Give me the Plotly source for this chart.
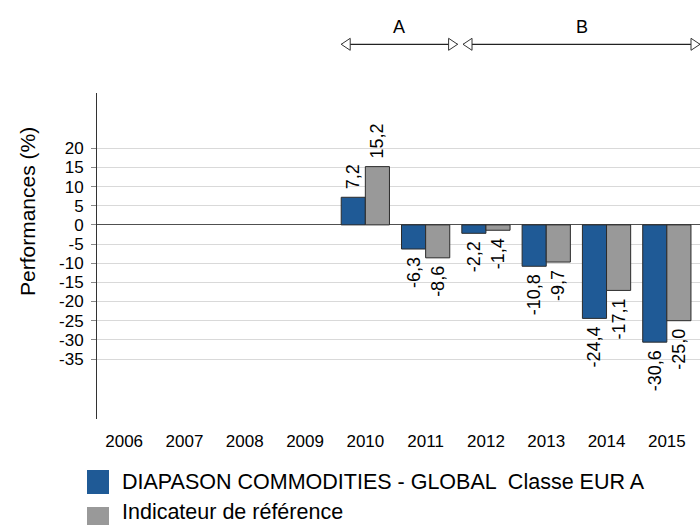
import plotly.graph_objects as go

# ---- data ----
years = [2006, 2007, 2008, 2009, 2010, 2011, 2012, 2013, 2014, 2015]
fund_values = [None, None, None, None, 7.2, -6.3, -2.2, -10.8, -24.4, -30.6]
index_values = [None, None, None, None, 15.2, -8.6, -1.4, -9.7, -17.1, -25.0]
fund_name = "DIAPASON COMMODITIES - GLOBAL \u00a0Classe EUR A"
index_name = "Indicateur de référence"
y_ticks = [20, 15, 10, 5, 0, -5, -10, -15, -20, -25, -30, -35]
period_labels = ["A", "B"]
period_starts = [2009.6, 2011.62]
period_ends = [2011.53, 2015.55]

# ---- style ----
FONT = "Liberation Sans, Arial, sans-serif"
BLUE = "#1f5a96"
GREY = "#999999"
OUTLINE = "#2b2b2b"
W, H = 700, 525
ML, MR, MT, MB = 97, 0, 93, 106
XR = [2005.55, 2015.55]
YR = [-50.65, 34.41]
PW = W - ML - MR
PH = H - MT - MB
NB = "\u00a0"


def fmt(v):
    if v is None:
        return ""
    s = f"{v:.1f}".replace(".", ",")
    # small padding on the side facing the bar
    return NB + s if v >= 0 else s + NB


def px_x(px):
    return (px - ML) / PW


def px_y(py):
    return (H - MB - py) / PH


def yr_x(v):
    return (v - XR[0]) / (XR[1] - XR[0])


fig = go.Figure()
fig.add_trace(go.Bar(
    x=years, y=fund_values, name=fund_name,
    marker=dict(color=BLUE, line=dict(color=OUTLINE, width=1)),
    text=[fmt(v) for v in fund_values], textposition="outside",
    textangle=-90, textfont=dict(size=18, color="#000", family=FONT),
    constraintext="none", cliponaxis=False, hoverinfo="skip",
))
fig.add_trace(go.Bar(
    x=years, y=index_values, name=index_name,
    marker=dict(color=GREY, line=dict(color=OUTLINE, width=1)),
    text=[fmt(v) for v in index_values], textposition="outside",
    textangle=-90, textfont=dict(size=18, color="#000", family=FONT),
    constraintext="none", cliponaxis=False, hoverinfo="skip",
))

shapes = []
annotations = []

# period arrows
arrow_y = px_y(44.3)
for lab, s, e in zip(period_labels, period_starts, period_ends):
    xs, xe = yr_x(s), yr_x(e)
    shapes.append(dict(type="line", xref="paper", yref="paper", x0=xs, x1=xe,
                       y0=arrow_y, y1=arrow_y, line=dict(color="#222", width=1.3)))
    shapes.append(dict(type="path", xref="paper", yref="paper",
                       xsizemode="pixel", ysizemode="pixel",
                       xanchor=xs, yanchor=arrow_y,
                       path="M0,0 L9,6 L9,-6 Z", fillcolor="white",
                       line=dict(color="#333", width=1)))
    shapes.append(dict(type="path", xref="paper", yref="paper",
                       xsizemode="pixel", ysizemode="pixel",
                       xanchor=xe, yanchor=arrow_y,
                       path="M0,0 L-9,6 L-9,-6 Z", fillcolor="white",
                       line=dict(color="#333", width=1)))
    annotations.append(dict(text=lab, xref="paper", yref="paper",
                            x=(xs + xe) / 2, y=px_y(27), showarrow=False,
                            xanchor="center", yanchor="middle",
                            font=dict(size=18, color="#000", family=FONT)))

# custom legend
legend_items = [(fund_name, BLUE, 470, 494, 482), (index_name, GREY, 507, 531, 512)]
for name, col, top, bot, ty in legend_items:
    shapes.append(dict(type="rect", xref="paper", yref="paper",
                       x0=px_x(87), x1=px_x(109), y0=px_y(bot), y1=px_y(top),
                       fillcolor=col, line=dict(width=0)))
    annotations.append(dict(text=name, xref="paper", yref="paper",
                            x=px_x(120), y=px_y(ty), showarrow=False,
                            xanchor="left", yanchor="middle",
                            font=dict(size=21.5, color="#000", family=FONT)))

# y title
annotations.append(dict(text="Performances (%)", xref="paper", yref="paper",
                        x=px_x(27), y=px_y(212), showarrow=False, textangle=-90,
                        xanchor="center", yanchor="middle",
                        font=dict(size=21, color="#000", family=FONT)))

fig.update_layout(
    width=W, height=H,
    margin=dict(l=ML, r=MR, t=MT, b=MB, autoexpand=False),
    paper_bgcolor="white", plot_bgcolor="white",
    barmode="group", bargap=0.2, bargroupgap=0,
    showlegend=False, hovermode=False,
    font=dict(family=FONT, color="#000"),
    shapes=shapes, annotations=annotations,
    xaxis=dict(range=XR, tickvals=years, ticktext=[str(y) for y in years],
               showgrid=False, zeroline=False, showline=False, ticks="",
               ticklabelstandoff=10,
               tickfont=dict(size=17, color="#000", family=FONT)),
    yaxis=dict(range=YR, tickvals=y_ticks, ticktext=[str(v) for v in y_ticks],
               showgrid=True, gridcolor="#d9d9d9", gridwidth=1,
               zeroline=True, zerolinecolor="#505050", zerolinewidth=1,
               showline=True, linecolor="#333", linewidth=1,
               ticks="outside", ticklen=5, tickcolor="#888",
               ticklabelstandoff=4,
               tickfont=dict(size=17, color="#000", family=FONT)),
)

fig.write_html(
    "out.html",
    config={"displayModeBar": False, "staticPlot": True},
    post_script="document.body.style.margin='0';document.body.style.overflow='hidden';",
)
